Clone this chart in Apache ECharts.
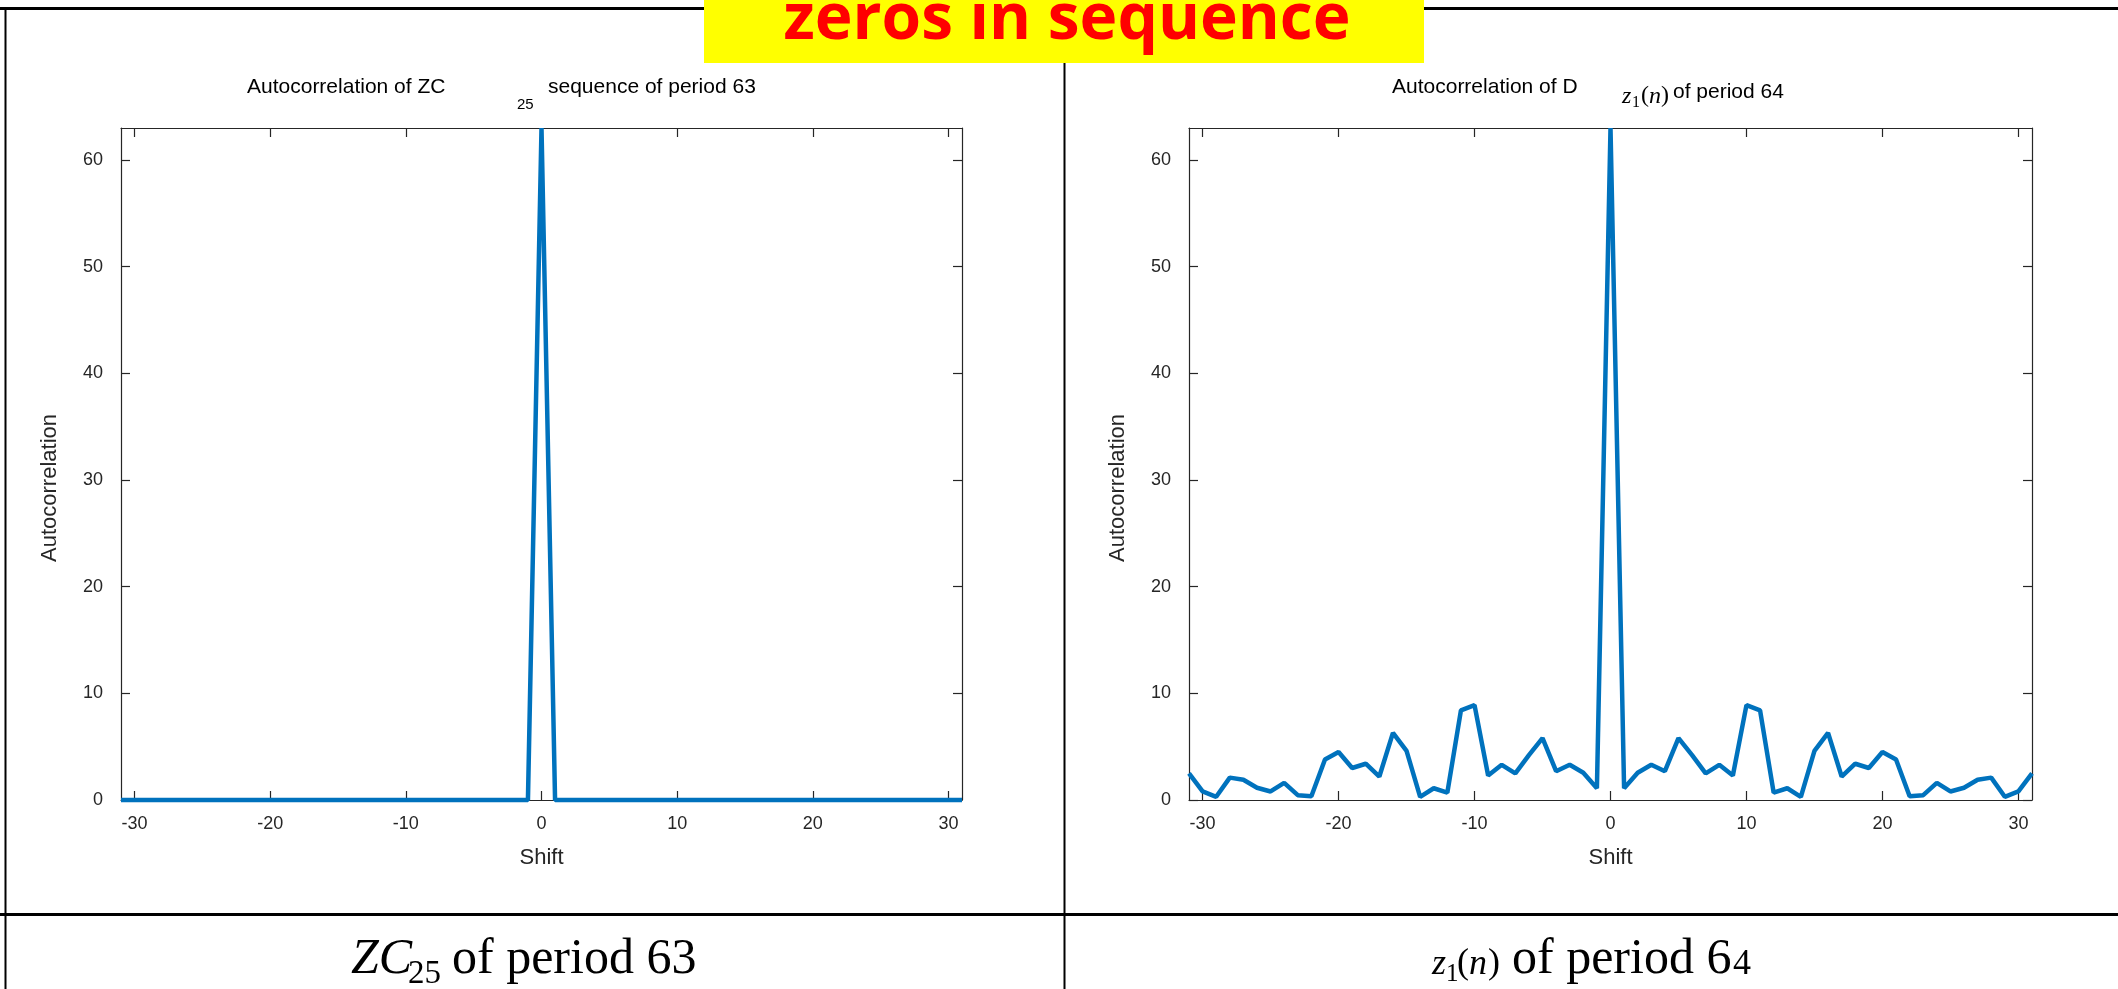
<!DOCTYPE html>
<html>
<head>
<meta charset="utf-8">
<style>
  html, body { margin: 0; padding: 0; background: #ffffff; }
  #chart { width: 2118px; height: 989px; }
</style>
<script src="https://cdn.jsdelivr.net/npm/echarts@6.0.0/dist/echarts.min.js"></script>
</head>
<body>
<div id="chart"></div>
<script>
// ---------------- data ----------------
var shifts = [-31,-30,-29,-28,-27,-26,-25,-24,-23,-22,-21,-20,-19,-18,-17,-16,-15,-14,-13,-12,-11,-10,-9,-8,-7,-6,-5,-4,-3,-2,-1,
              0,
              1,2,3,4,5,6,7,8,9,10,11,12,13,14,15,16,17,18,19,20,21,22,23,24,25,26,27,28,29,30,31];

// Autocorrelation of ZC_25 (period 63)
var zcValues = [0,0,0,0,0,0,0,0,0,0,0,0,0,0,0,0,0,0,0,0,0,0,0,0,0,0,0,0,0,0,0,
                63,
                0,0,0,0,0,0,0,0,0,0,0,0,0,0,0,0,0,0,0,0,0,0,0,0,0,0,0,0,0,0,0];

// Autocorrelation of D z1(n) (period 64)
var dzValues = [2.5,0.8,0.3,2.1,1.9,1.15,0.8,1.6,0.45,0.35,3.8,4.5,3.0,3.4,2.2,6.3,4.6,0.3,1.1,0.7,8.4,8.9,2.3,3.3,2.5,4.2,5.8,2.7,3.3,2.55,1.1,
                63,
                1.1,2.55,3.3,2.7,5.8,4.2,2.5,3.3,2.3,8.9,8.4,0.7,1.1,0.3,4.6,6.3,2.2,3.4,3.0,4.5,3.8,0.35,0.45,1.6,0.8,1.15,1.9,2.1,0.3,0.8,2.5];

var xTicks = [-30,-20,-10,0,10,20,30];
var yTicks = [0,10,20,30,40,50,60];

// ---------------- chart ----------------
var chart = echarts.init(document.getElementById('chart'), null, { renderer: 'canvas' });

function pairs(xs, ys) {
  var out = [];
  for (var i = 0; i < xs.length; i++) out.push([xs[i], ys[i]]);
  return out;
}

var AX = '#262626';
var SANS = '"Liberation Sans", Arial, sans-serif';
var SERIF = '"Liberation Serif", "Times New Roman", serif';

var grids = [
  { left: 121, top: 128, width: 841, height: 672 },
  { left: 1189, top: 128, width: 843, height: 672 }
];

var xAxes = [], yAxes = [];
grids.forEach(function (g, i) {
  var baseX = {
    gridIndex: i, type: 'value', min: -31, max: 31,
    axisLine: { show: true, onZero: false, lineStyle: { color: AX, width: 1.2 } },
    axisTick: { show: true, inside: true, length: 9, customValues: xTicks, lineStyle: { color: AX, width: 1.2 } },
    splitLine: { show: false }
  };
  xAxes.push(Object.assign({}, baseX, {
    position: 'bottom',
    axisLabel: { show: true, customValues: xTicks, margin: 15, fontSize: 18, color: AX, fontFamily: SANS },
    name: 'Shift', nameLocation: 'middle', nameGap: 47,
    nameTextStyle: { fontSize: 22, color: AX, fontFamily: SANS }
  }));
  xAxes.push(Object.assign({}, baseX, {
    position: 'top',
    axisLabel: { show: false }
  }));
  var baseY = {
    gridIndex: i, type: 'value', min: 0, max: 63,
    axisLine: { show: true, onZero: false, lineStyle: { color: AX, width: 1.2 } },
    axisTick: { show: true, inside: true, length: 9, customValues: yTicks, lineStyle: { color: AX, width: 1.2 } },
    splitLine: { show: false }
  };
  yAxes.push(Object.assign({}, baseY, {
    position: 'left',
    axisLabel: { show: true, customValues: yTicks, margin: 18, fontSize: 18, color: AX, fontFamily: SANS },
    name: 'Autocorrelation', nameLocation: 'middle', nameGap: 60,
    nameTextStyle: { fontSize: 22, color: AX, fontFamily: SANS, padding: [0, 48, 0, 0] }
  }));
  yAxes.push(Object.assign({}, baseY, {
    position: 'right',
    axisLabel: { show: false }
  }));
});

function txt(x, y, text, font, color, align) {
  return {
    type: 'text', x: x, y: y, z: 100,
    style: {
      text: text, font: font, fill: color || '#000',
      align: align || 'left', verticalAlign: 'middle',
      textAlign: align || 'left', textVerticalAlign: 'middle'
    }
  };
}
function line(x1, y1, x2, y2, w) {
  return { type: 'line', z: 90, shape: { x1: x1, y1: y1, x2: x2, y2: y2 }, style: { stroke: '#000', lineWidth: w } };
}

var graphics = [
  // table frame
  line(0, 8.5, 2118, 8.5, 3),
  line(5.5, 8, 5.5, 989, 2),
  line(1064.5, 8, 1064.5, 989, 2),
  line(0, 914.5, 2118, 914.5, 3),
  // yellow banner
  { type: 'rect', z: 95, shape: { x: 704, y: 0, width: 720, height: 63 }, style: { fill: '#FFFF00' } },
  txt(1067, 21, 'zeros in sequence', 'bold 64px "Open Sans", sans-serif', '#FF0000', 'center'),
  // left chart title
  txt(247, 87, 'Autocorrelation of ZC', '21px ' + SANS, '#000'),
  txt(517, 105, '25', '15px ' + SANS, '#000'),
  txt(548, 87, 'sequence of period 63', '21px ' + SANS, '#000'),
  // right chart title
  txt(1392, 87, 'Autocorrelation of D', '21px ' + SANS, '#000'),
  txt(1622, 97, 'z', 'italic 24px ' + SERIF, '#000'),
  txt(1632, 103, '1', '16px ' + SERIF, '#000'),
  txt(1641, 96, '(', '24px ' + SERIF, '#000'),
  txt(1649, 97, 'n', 'italic 24px ' + SERIF, '#000'),
  txt(1661, 96, ')', '24px ' + SERIF, '#000'),
  txt(1673, 92, 'of period 64', '21px ' + SANS, '#000'),
  // bottom cell labels
  txt(351, 960, 'ZC', 'italic 50px ' + SERIF, '#000'),
  txt(408, 974, '25', '33px ' + SERIF, '#000'),
  txt(452, 960, 'of period 63', '50px ' + SERIF, '#000'),
  txt(1432, 965, 'z', 'italic 36px ' + SERIF, '#000'),
  txt(1446, 974, '1', '25px ' + SERIF, '#000'),
  txt(1457, 964, '(', '36px ' + SERIF, '#000'),
  txt(1469, 965, 'n', 'italic 36px ' + SERIF, '#000'),
  txt(1488, 964, ')', '36px ' + SERIF, '#000'),
  txt(1512, 960, 'of period 6', '50px ' + SERIF, '#000'),
  txt(1733, 965, '4', '36px ' + SERIF, '#000')
];

var option = {
  backgroundColor: '#ffffff',
  animation: false,
  grid: grids,
  xAxis: xAxes,
  yAxis: yAxes,
  series: [
    {
      type: 'line', xAxisIndex: 0, yAxisIndex: 0,
      data: pairs(shifts, zcValues),
      showSymbol: false, symbol: 'none', clip: false,
      lineStyle: { color: '#0072BD', width: 4.5 },
      z: 10
    },
    {
      type: 'line', xAxisIndex: 2, yAxisIndex: 2,
      data: pairs(shifts, dzValues),
      showSymbol: false, symbol: 'none', clip: false,
      lineStyle: { color: '#0072BD', width: 4.5 },
      z: 10
    }
  ],
  graphic: graphics
};

chart.setOption(option);
</script>
</body>
</html>
